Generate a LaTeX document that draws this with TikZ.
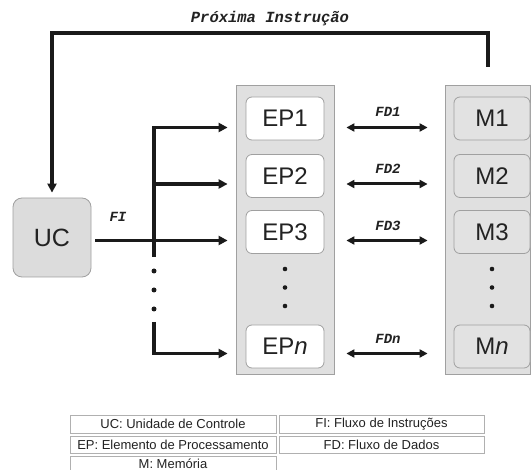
\documentclass[tikz,border=0pt]{standalone}
\usepackage{fontspec}
\setmainfont{Liberation Sans}
\newfontfamily\courfont{Liberation Mono}
\usetikzlibrary{arrows.meta}
\definecolor{panelgray}{HTML}{E0E0E0}
\definecolor{bordergray}{HTML}{A0A0A0}
\definecolor{ucgray}{HTML}{DCDCDC}
\definecolor{mgray}{HTML}{E2E2E2}
\definecolor{linec}{HTML}{1A1A1A}
\definecolor{textc}{HTML}{222222}
\definecolor{cellborder}{HTML}{B0B0B0}
\begin{document}
\begin{tikzpicture}[x=1pt,y={(0pt,-1pt)},
  panel/.style={draw=bordergray, fill=panelgray, line width=0.8pt, inner sep=0pt},
  epbox/.style={draw=bordergray, fill=white, line width=0.8pt, rounded corners=6pt,
    minimum width=78pt, minimum height=43pt, inner sep=0pt,
    font=\fontsize{24}{24}\selectfont, text=textc},
  mbox/.style={epbox, fill=mgray, minimum width=76pt},
  ucbox/.style={draw=bordergray, fill=ucgray, line width=0.8pt, rounded corners=9pt,
    minimum width=78pt, minimum height=79pt, inner sep=0pt,
    font=\fontsize{25}{25}\selectfont, text=textc},
  flow/.style={line width=3.8pt, draw=linec, -{Triangle[length=9pt,width=9pt]}},
  fd/.style={line width=3pt, draw=linec, {Triangle[length=8pt,width=8pt]}-{Triangle[length=8pt,width=8pt]}},
  lbl/.style={font=\courfont\bfseries\itshape\fontsize{14}{14}\selectfont, text=textc},
  toplbl/.style={font=\courfont\bfseries\itshape\fontsize{15.5}{15.5}\selectfont, text=textc},
  cell/.style={draw=cellborder, line width=0.9pt, minimum height=18pt, inner sep=0pt,
    font=\fontsize{13}{13}\selectfont, text=textc},
  celltext/.style={inner sep=0pt, font=\fontsize{13}{13}\selectfont, text=textc},
  dotc/.style={fill=linec}
]
\clip (0,0) rectangle (531,470);
\fill[white] (0,0) rectangle (531,470);

% panels
\node[panel, minimum width=98pt, minimum height=289pt] (eppanel) at (285,229.5) {};
\node[panel, minimum width=85.5pt, minimum height=289pt] (mpanel) at (487.75,229.5) {};

% boxes
\node[ucbox] (uc) at (52,237.5) {UC};
\node[epbox] (ep1) at (285,118.5) {EP1};
\node[epbox] (ep2) at (285,176) {EP2};
\node[epbox] (ep3) at (285,232) {EP3};
\node[epbox] (epn) at (285,346.5) {EP\textit{n}};
\node[mbox] (m1) at (492,118.5) {M1};
\node[mbox] (m2) at (492,176) {M2};
\node[mbox] (m3) at (492,232) {M3};
\node[mbox] (mn) at (492,346.5) {M\textit{n}};

% coordinates
\coordinate (t1) at (154,127.5);
\coordinate (t2) at (154,184);
\coordinate (t3) at (154,240.5);
\coordinate (t4) at (154,353.5);
\coordinate (g1) at (154,257);
\coordinate (g2) at (154,322);
\coordinate (fi) at (95,240.5);
\coordinate (mtop) at (488,67);
\coordinate (c1) at (488,33);

% top feedback
\draw[flow, shorten >=5pt] (mtop) -- (c1) -- (c1 -| uc.north) -- (uc.north);
\node[toplbl] (prox) at (270,19) {Próxima Instrução};

% instruction flow
\draw[flow, shorten >=8pt] (g1) -- (t1) -- (t1 -| eppanel.west);
\draw[flow, shorten >=8pt] (t2) -- (t2 -| eppanel.west);
\draw[flow, shorten >=8pt] (fi) -- (fi -| eppanel.west);
\draw[flow, shorten >=8pt] (g2) -- (t4) -- (t4 -| eppanel.west);
\node[lbl] (fil) at (118,217) {FI};

% dots
\fill[dotc] (154,271) circle (2.5);
\fill[dotc] (154,290) circle (2.5);
\fill[dotc] (154,309) circle (2.5);
\fill[dotc] (285,269) circle (2.3);
\fill[dotc] (285,287.5) circle (2.3);
\fill[dotc] (285,306) circle (2.3);
\fill[dotc] (492,269) circle (2.3);
\fill[dotc] (492,287.5) circle (2.3);
\fill[dotc] (492,306) circle (2.3);

% data flows
\draw[fd, shorten <=12pt, shorten >=17pt] (eppanel.east |- t1) -- (mpanel.west |- t1);
\draw[fd, shorten <=12pt, shorten >=17pt] (eppanel.east |- t2) -- (mpanel.west |- t2);
\draw[fd, shorten <=12pt, shorten >=17pt] (eppanel.east |- t3) -- (mpanel.west |- t3);
\draw[fd, shorten <=12pt, shorten >=17pt] (eppanel.east |- t4) -- (mpanel.west |- t4);
\node[lbl] (fd1) at (388,112) {FD1};
\node[lbl] (fd2) at (388,169) {FD2};
\node[lbl] (fd3) at (388,225.5) {FD3};
\node[lbl] (fdn) at (388,339) {FDn};

% legend
\node[cell, minimum width=206pt] (l1) at (173,424) {UC: Unidade de Controle};
\node[cell, minimum width=205pt] (r1) at (381.5,424) {FI: Fluxo de Instruções};
\node[cell, minimum width=206pt, minimum height=17pt] (l2) at (173,444.5) {EP: Elemento de Processamento};
\node[cell, minimum width=205pt, minimum height=17pt] (r2) at (381.5,444.5) {FD: Fluxo de Dados};
\node[cell, minimum width=206pt, minimum height=22pt] (l3) at (173,467) {};
\node[celltext] (l3t) at (173,463.5) {M: Memória};
\end{tikzpicture}
\end{document}
